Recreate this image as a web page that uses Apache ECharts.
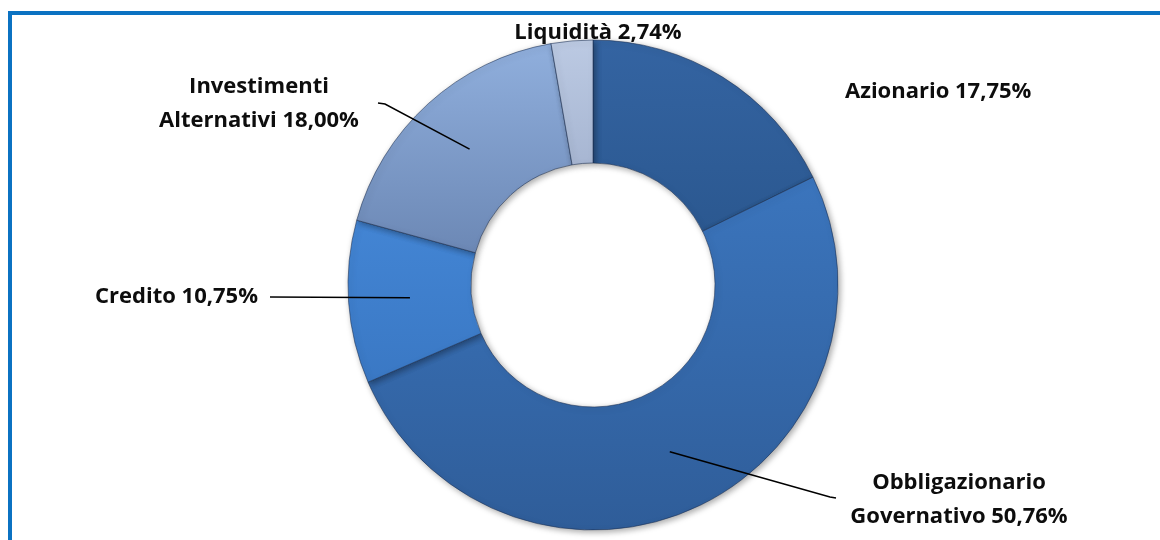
<!DOCTYPE html>
<html>
<head>
<meta charset="utf-8">
<script src="https://cdn.jsdelivr.net/npm/echarts@6/dist/echarts.min.js"></script>
<style>
  html, body { margin: 0; padding: 0; background: #fff; }
  #main { width: 1160px; height: 540px; }
</style>
</head>
<body>
<div id="main"></div>
<script>
    // dati della composizione del portafoglio
    var categories = ['Azionario', 'Obbligazionario\nGovernativo', 'Credito', 'Investimenti\nAlternativi', 'Liquidità'];
    var weights = [17.75, 50.76, 10.75, 18.00, 2.74];

    // colori delle fette (chiaro in alto, scuro in basso)
    var topColors = ['#3464a2', '#3b75bd', '#4385d4', '#90afdd', '#bccae3'];
    var bottomColors = ['#2b5890', '#2f5d99', '#3a78c4', '#6c88b5', '#a7b6d2'];

    // posizione delle etichette: [x, y, align]
    var labelPos = [
        [845, 92, 'left'],
        [959, 500, 'center'],
        [258, 297, 'right'],
        [259, 104, 'center'],
        [598, 33, 'center']
    ];
    // gomiti delle linee guida (null = nessuna linea)
    var leaderPts = [
        null,
        [[830, 497], [836, 498]],
        [[270, 297]],
        [[385, 104], [378, 103]],
        null
    ];

    var center = [593, 285];
    var radius = [122, 245];

    function fmt(v) {
        return v.toFixed(2).replace('.', ',') + '%';
    }

    // punto al centro della fetta (dove arriva la linea guida)
    var total = 0;
    for (var k = 0; k < weights.length; k++) total += weights[k];
    function slicePoint(idx) {
        var acc = 0;
        for (var j = 0; j < idx; j++) acc += weights[j];
        var mid = (acc + weights[idx] / 2) / total * Math.PI * 2;
        var r = (radius[0] + radius[1]) / 2;
        return [center[0] + r * Math.sin(mid), center[1] - r * Math.cos(mid)];
    }

    var data = [];
    for (var i = 0; i < categories.length; i++) {
        data.push({
            name: categories[i],
            value: weights[i],
            itemStyle: {
                color: new echarts.graphic.LinearGradient(0, 0, 0, 1, [
                    { offset: 0, color: topColors[i] },
                    { offset: 1, color: bottomColors[i] }
                ])
            }
        });
    }

    // linee guida sopra le fette
    var graphics = [{
        type: 'rect',
        shape: { x: 10, y: 13, width: 1200, height: 600 },
        style: { fill: 'none', stroke: '#0b72c2', lineWidth: 4 },
        z: -1
    }];
    for (var n = 0; n < leaderPts.length; n++) {
        if (!leaderPts[n]) continue;
        graphics.push({
            type: 'polyline',
            shape: { points: [slicePoint(n)].concat(leaderPts[n]) },
            style: { stroke: '#000', lineWidth: 1.5, fill: 'none' },
            z: 100
        });
    }

    var chart = echarts.init(document.getElementById('main'));
    var option = {
        animation: false,
        graphic: graphics,
        series: [{
            name: 'Composizione',
            type: 'pie',
            center: center,
            radius: radius,
            startAngle: 90,
            clockwise: true,
            avoidLabelOverlap: false,
            itemStyle: {
                borderColor: 'rgba(25,45,80,0.55)',
                borderWidth: 1,
                shadowBlur: 6,
                shadowOffsetX: 2,
                shadowOffsetY: 2,
                shadowColor: 'rgba(0,0,0,0.35)'
            },
            label: {
                show: true,
                position: 'outside',
                fontFamily: 'Open Sans',
                fontWeight: 'bold',
                fontSize: 22,
                lineHeight: 34,
                color: '#0d0d0d',
                formatter: function (p) {
                    return p.name + ' ' + fmt(p.value);
                }
            },
            labelLine: { show: false },
            labelLayout: function (params) {
                var pos = labelPos[params.dataIndex];
                return {
                    x: pos[0],
                    y: pos[1],
                    align: pos[2],
                    verticalAlign: 'middle'
                };
            },
            data: data
        }]
    };
    chart.setOption(option);
</script>
</body>
</html>
